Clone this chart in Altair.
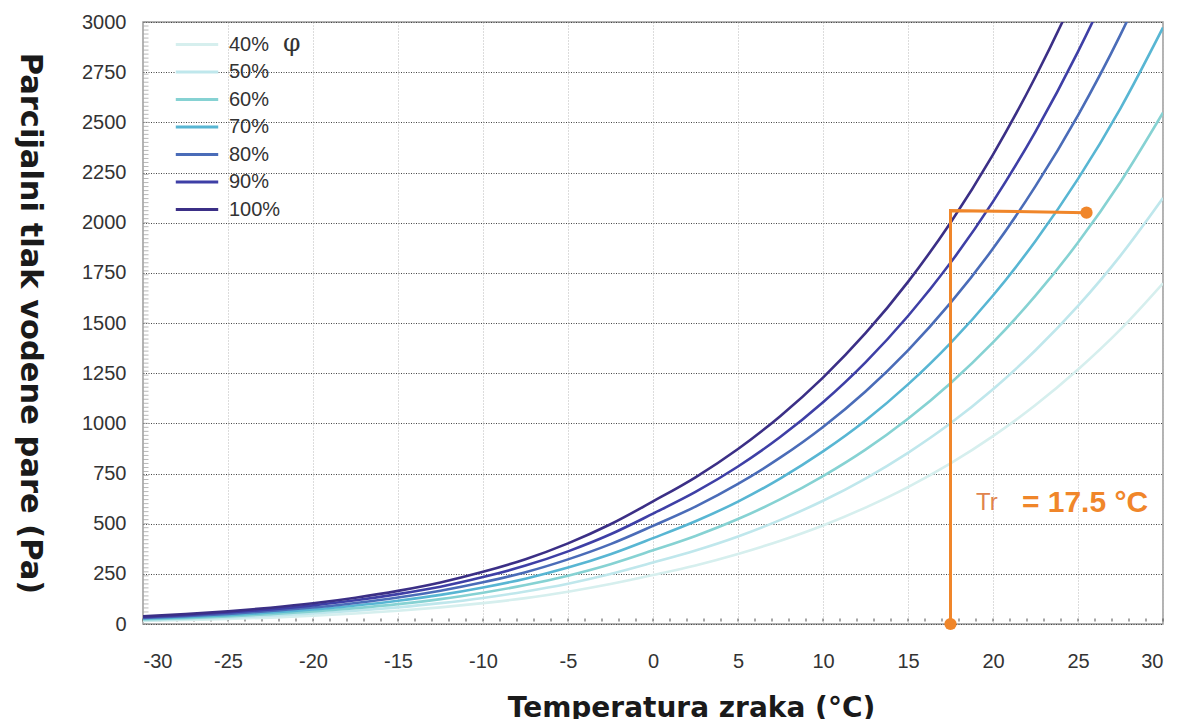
import altair as alt
import pandas as pd

# Temperature grid (°C)
temps = [-30, -27.5, -25, -22.5, -20, -17.5, -15, -12.5, -10, -7.5, -5, -2.5,
         0, 2.5, 5, 7.5, 10, 12.5, 15, 17.5, 20, 22.5, 25, 27.5, 30]

# Partial vapour pressure (Pa) for each relative humidity curve
p40 = [15, 20, 25, 32, 41, 52, 66, 83, 104, 129, 161, 199, 244, 292, 349, 415,
       491, 580, 682, 800, 936, 1091, 1268, 1468, 1698]
p50 = [19, 25, 32, 41, 52, 66, 83, 104, 130, 162, 201, 249, 306, 366, 436, 519,
       614, 725, 853, 1000, 1170, 1364, 1585, 1836, 2123]
p60 = [23, 29, 38, 49, 62, 79, 99, 124, 156, 194, 241, 298, 367, 439, 523, 622,
       737, 869, 1023, 1200, 1403, 1636, 1901, 2203, 2548]
p70 = [27, 34, 44, 57, 72, 92, 116, 145, 182, 226, 281, 348, 428, 512, 610, 726,
       860, 1014, 1194, 1400, 1637, 1909, 2218, 2570, 2972]
p80 = [30, 39, 50, 65, 82, 105, 132, 166, 208, 258, 322, 398, 489, 585, 698, 830,
       982, 1159, 1364, 1600, 1871, 2182, 2535, 2937, 3397]
p90 = [34, 44, 57, 73, 93, 118, 149, 186, 234, 291, 362, 447, 550, 658, 785, 933,
       1105, 1304, 1535, 1800, 2105, 2454, 2852, 3304, 3821]
p100 = [38, 49, 63, 81, 103, 131, 165, 207, 260, 323, 402, 497, 611, 731, 872, 1037,
        1228, 1449, 1705, 2000, 2339, 2727, 3169, 3671, 4246]

series_labels = ["40%", "50%", "60%", "70%", "80%", "90%", "100%"]
series_colors = ["#d6efee", "#bfe7ec", "#86d2d3", "#58b6d3", "#4a6cb8", "#3e3fa6", "#3b2f86"]

# Dew point annotation (orange path)
ann_x = [17.5, 17.5, 25.5]
ann_y = [0, 2060, 2050]
dot_x = [17.5, 25.5]
dot_y = [0, 2050]

x_ticks = [-30, -25, -20, -15, -10, -5, 0, 5, 10, 15, 20, 25, 30]
y_ticks = [0, 250, 500, 750, 1000, 1250, 1500, 1750, 2000, 2250, 2500, 2750, 3000]
x_minor = list(range(-30, 31))
y_minor = list(range(0, 3001, 20))

rows = []
for lab, vals in zip(series_labels, [p40, p50, p60, p70, p80, p90, p100]):
    for t, v in zip(temps, vals):
        rows.append({"T": t, "P": v, "phi": lab})
df = pd.DataFrame(rows)
ann = pd.DataFrame({"T": ann_x, "P": ann_y, "o": [0, 1, 2]})
dots = pd.DataFrame({"T": dot_x, "P": dot_y})

xscale = alt.Scale(domain=[-30, 30], nice=False, zero=False)
yscale = alt.Scale(domain=[0, 3000], nice=False)

xaxis = alt.Axis(values=x_ticks, title="Temperatura zraka (°C)", ticks=False,
                 labelPadding=27, titlePadding=23, domain=False, titleX=548,
                 labelExpr="datum.value + ''", titleFontSize=28,
                 gridColor="#b8b8b8", gridDash=[1, 2], gridWidth=1)
yaxis = alt.Axis(values=y_ticks, title="Parcijalni tlak vodene pare (Pa)", ticks=False,
                 labelPadding=17, titlePadding=37, titleAngle=90, titleBaseline="top",
                 domain=False, labelExpr="datum.value + ''", titleFontSize=30.5,
                 gridColor="#444444", gridDash=[1, 1.5], gridWidth=1)

lines = alt.Chart(df).mark_line(strokeWidth=2.6, clip=True, interpolate="monotone").encode(
    x=alt.X("T:Q", scale=xscale, axis=xaxis),
    y=alt.Y("P:Q", scale=yscale, axis=yaxis),
    color=alt.Color("phi:N", sort=series_labels,
                    scale=alt.Scale(domain=series_labels, range=series_colors),
                    legend=alt.Legend(title="φ", orient="none", legendX=31, legendY=9,
                                      titleOrient="right", titleAnchor="start",
                                      symbolType="stroke", symbolSize=1800,
                                      symbolStrokeWidth=3, labelFontSize=20,
                                      labelFont="Liberation Sans", labelColor="#333333",
                                      titleFontSize=25, titleFont="DejaVu Serif",
                                      titleFontWeight="normal", titleColor="#333333",
                                      titlePadding=3, clipHeight=27,
                                      labelOffset=9, rowPadding=0.5, padding=0)),
    order=alt.Order("T:Q"),
)

minor_y = alt.Chart(pd.DataFrame({"P": y_minor})).mark_tick(
    orient="horizontal", size=5, thickness=1, color="#9a9a9a"
).encode(x=alt.value(3), y=alt.Y("P:Q", scale=yscale))
minor_x = alt.Chart(pd.DataFrame({"T": x_minor})).mark_tick(
    orient="vertical", size=3, thickness=1.5, color="#555555"
).encode(x=alt.X("T:Q", scale=xscale), y=alt.value(598))

path = alt.Chart(ann).mark_line(color="#f0862a", strokeWidth=3).encode(
    x=alt.X("T:Q", scale=xscale), y=alt.Y("P:Q", scale=yscale), order="o:Q")
pts = alt.Chart(dots).mark_circle(color="#f0862a", size=150, opacity=1).encode(
    x=alt.X("T:Q", scale=xscale), y=alt.Y("P:Q", scale=yscale))

lbl1 = alt.Chart(pd.DataFrame({"T": [19.0], "P": [603], "s": ["Tr"]})).mark_text(
    align="left", baseline="middle", fontSize=24, font="Liberation Sans", color="#e0844e"
).encode(x=alt.X("T:Q", scale=xscale), y=alt.Y("P:Q", scale=yscale), text="s:N")
lbl2 = alt.Chart(pd.DataFrame({"T": [21.7], "P": [603], "s": ["= 17.5 °C"]})).mark_text(
    align="left", baseline="middle", fontSize=30, font="Liberation Sans", fontWeight="bold",
    color="#f0862a"
).encode(x=alt.X("T:Q", scale=xscale), y=alt.Y("P:Q", scale=yscale), text="s:N")

chart = alt.layer(minor_y, minor_x, lines, path, pts, lbl1, lbl2).properties(
    width=1020, height=602,
    autosize=alt.AutoSizeParams(type="none"),
    padding={"left": 135, "top": 14, "right": 10, "bottom": 103},
).configure_view(stroke="#9a9a9a", strokeWidth=1.5).configure_axis(
    labelFont="Liberation Sans", labelFontSize=20, labelColor="#333333",
    titleFont="DejaVu Sans", titleFontWeight="bold", titleColor="#1a1a1a",
)

chart.save("out.html", embed_options={"renderer": "svg", "actions": False})
